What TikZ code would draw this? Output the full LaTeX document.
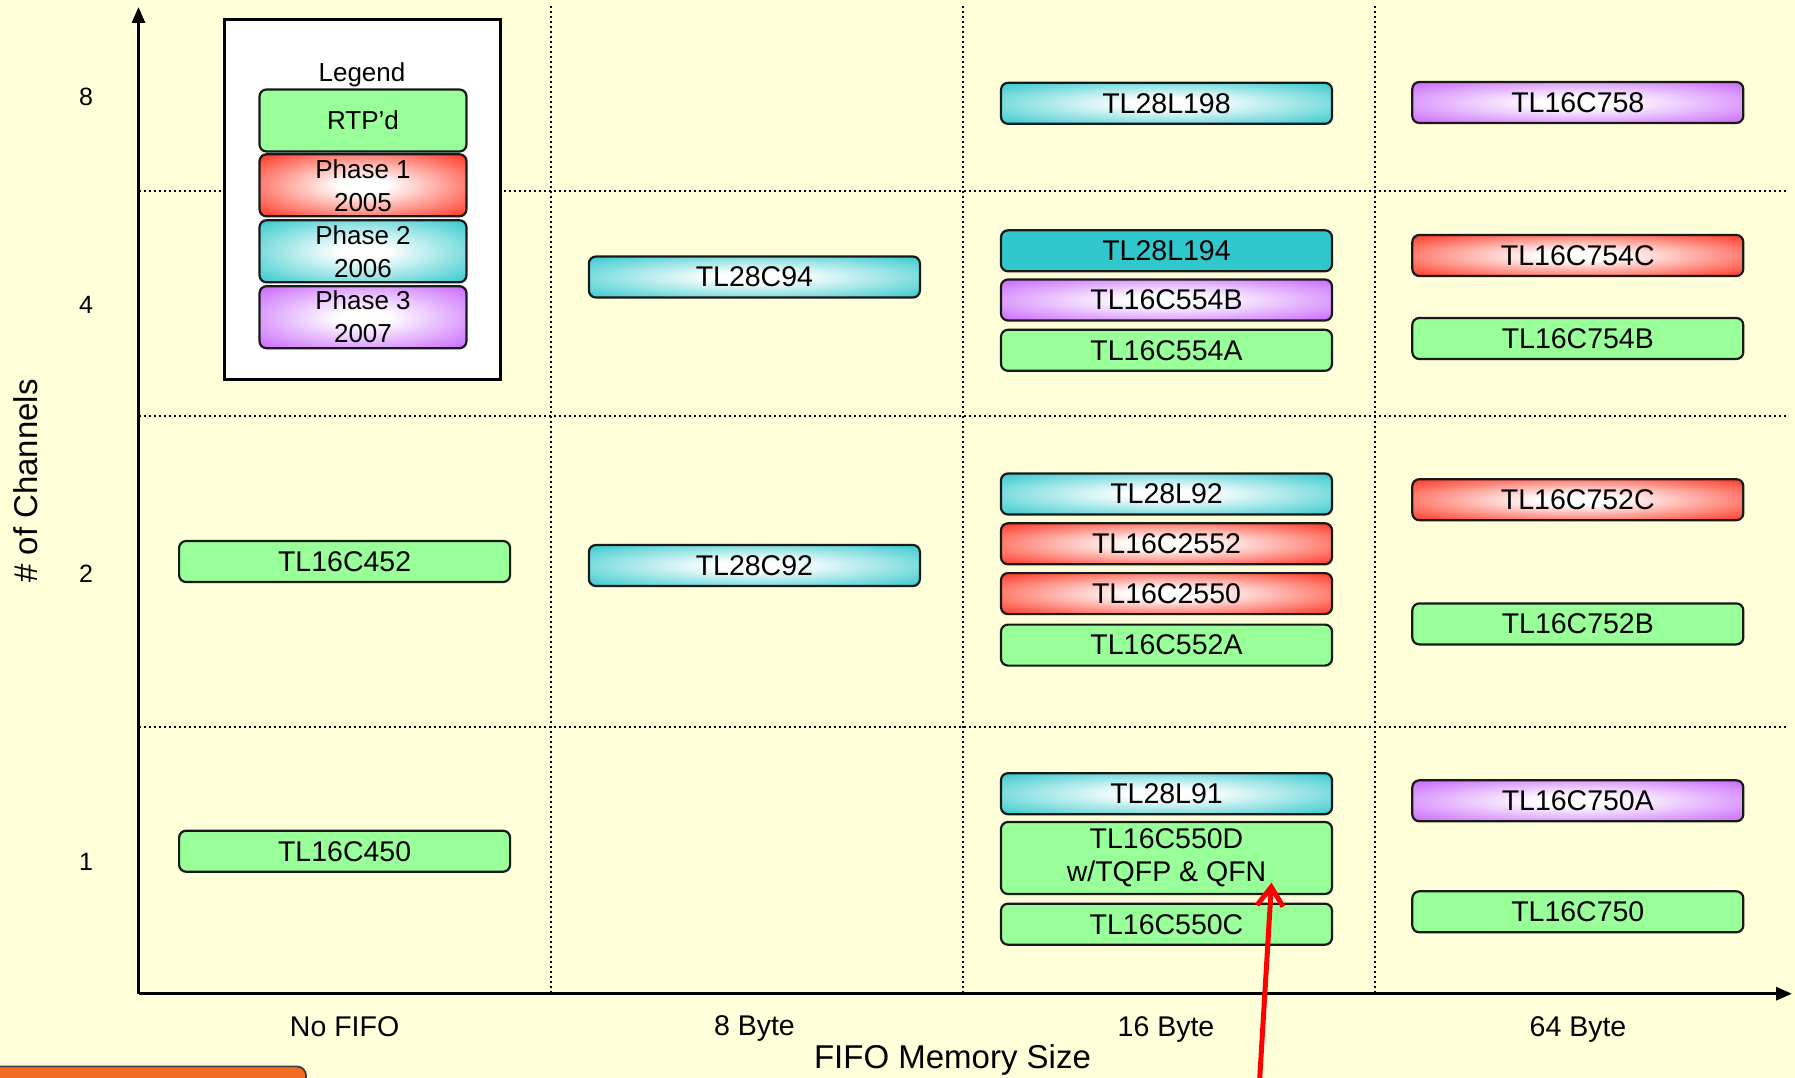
\documentclass[tikz,border=0pt]{standalone}
\usepackage{fontspec}
\setmainfont{Liberation Sans}
\usetikzlibrary{arrows.meta}
\definecolor{bgc}{RGB}{255,255,217}
\definecolor{greenc}{RGB}{153,255,153}
\definecolor{cyanedge}{RGB}{48,200,204}
\definecolor{rededge}{RGB}{255,50,30}
\definecolor{purpleedge}{RGB}{200,100,252}
\definecolor{orangec}{RGB}{242,108,36}
\definecolor{boxline}{RGB}{25,25,25}
\pgfdeclareradialshading{glowcyan}{\pgfpoint{0bp}{0bp}}{color(0bp)=(white); color(6bp)=(white); color(36bp)=(cyanedge); color(50bp)=(cyanedge)}
\pgfdeclareradialshading{glowred}{\pgfpoint{0bp}{0bp}}{color(0bp)=(white); color(6bp)=(white); color(36bp)=(rededge); color(50bp)=(rededge)}
\pgfdeclareradialshading{glowpurple}{\pgfpoint{0bp}{0bp}}{color(0bp)=(white); color(6bp)=(white); color(36bp)=(purpleedge); color(50bp)=(purpleedge)}
\begin{document}
\begin{tikzpicture}[x=1pt,y=-1pt,
  chip/.style={draw=boxline, line width=2.2pt, rounded corners=7pt, minimum width=331pt, minimum height=41pt, inner sep=0pt, font=\fontsize{28.5}{33}\selectfont, align=center},
  greenchip/.style={chip, fill=greenc},
  cyanchip/.style={chip, shade, shading=glowcyan},
  cyansolid/.style={chip, fill=cyanedge},
  redchip/.style={chip, shade, shading=glowred},
  purplechip/.style={chip, shade, shading=glowpurple},
  legchip/.style={minimum width=207pt, minimum height=62pt, font=\fontsize{26}{33}\selectfont},
  gridline/.style={line width=2pt, dash pattern=on 2pt off 3pt, black},
  axisline/.style={line width=3pt, black, -{Triangle[length=16pt,width=13pt]}},
  axlabel/.style={font=\fontsize{28.5}{30}\selectfont, text height=0.72em, text depth=0.2em, inner sep=0pt},
  ticklabel/.style={font=\fontsize{25}{26}\selectfont},
]
\useasboundingbox (0,0) rectangle (1795,1078);
\fill[bgc] (0,0) rectangle (1795,1078);

% grid
\draw[gridline] (550.7,6) -- (550.7,993);
\draw[gridline] (962.8,6) -- (962.8,993);
\draw[gridline] (1375,6) -- (1375,993);
\draw[gridline] (138.5,191) -- (1786,191);
\draw[gridline] (138.5,415.6) -- (1786,415.6);
\draw[gridline] (138.5,727) -- (1786,727);

% axes
\coordinate (O) at (138.5,993.7);
\coordinate (ytop) at (138.5,7);
\coordinate (xend) at (1792,993.7);
\draw[axisline] (O) -- (ytop);
\draw[axisline] (O) -- (xend);

% legend
\node[draw=black, line width=3pt, fill=white, minimum width=276pt, minimum height=360pt, inner sep=0pt] (legendbox) at (362.7,199.7) {};
\node[font=\fontsize{26}{30}\selectfont] (legendtitle) at (362,75) {Legend};
\node[greenchip, legchip] (lrtp) at (363,120.5) {RTP’d};
\node[redchip, legchip] (lp1) at (363,185.3) {Phase 1\\2005};
\node[cyanchip, legchip] (lp2) at (363,251.3) {Phase 2\\2006};
\node[purplechip, legchip] (lp3) at (363,317.2) {Phase 3\\2007};

% column 1
\node[greenchip] (c452) at (344.6,561.5) {TL16C452};
\node[greenchip] (c450) at (344.6,851.2) {TL16C450};

% column 2
\node[cyanchip] (c2894) at (754.4,277) {TL28C94};
\node[cyanchip] (c2892) at (754.4,565.5) {TL28C92};

% column 3
\node[cyanchip] (l198) at (1166.5,103.3) {TL28L198};
\node[cyansolid] (l194) at (1166.5,250.8) {TL28L194};
\node[purplechip] (c554b) at (1166.5,300) {TL16C554B};
\node[greenchip] (c554a) at (1166.5,350.3) {TL16C554A};
\node[cyanchip] (l92) at (1166.5,494) {TL28L92};
\node[redchip] (c2552) at (1166.5,543.8) {TL16C2552};
\node[redchip] (c2550) at (1166.5,593.6) {TL16C2550};
\node[greenchip] (c552a) at (1166.5,645.1) {TL16C552A};
\node[cyanchip] (l91) at (1166.5,793.7) {TL28L91};
\node[greenchip, minimum height=72pt] (c550d) at (1166.5,858) {TL16C550D\\w/TQFP \& QFN};
\node[greenchip] (c550c) at (1166.5,924.2) {TL16C550C};

% column 4
\node[purplechip] (c758) at (1577.8,102.5) {TL16C758};
\node[redchip] (c754c) at (1577.8,255.5) {TL16C754C};
\node[greenchip] (c754b) at (1577.8,338.5) {TL16C754B};
\node[redchip] (c752c) at (1577.8,499.7) {TL16C752C};
\node[greenchip] (c752b) at (1577.8,623.9) {TL16C752B};
\node[purplechip] (c750a) at (1577.8,800.8) {TL16C750A};
\node[greenchip] (c750) at (1577.8,911.8) {TL16C750};

% axis labels
\node[axlabel] (xl1) at (344.6,1034) {No FIFO};
\node[axlabel] (xl2) at (754.4,1033) {8 Byte};
\node[axlabel] (xl3) at (1166,1034) {16 Byte};
\node[axlabel] (xl4) at (1578,1034) {64 Byte};
\node[font=\fontsize{33}{36}\selectfont] (xtitle) at (952.5,1060) {FIFO Memory Size};
\node[font=\fontsize{33}{36}\selectfont, rotate=90] (ytitle) at (26,481) {\# of Channels};
\node[ticklabel] (t8) at (86,97.3) {8};
\node[ticklabel] (t4) at (86,304.5) {4};
\node[ticklabel] (t2) at (86,573.5) {2};
\node[ticklabel] (t1) at (86,862) {1};

% orange banner (partially visible)
\draw[fill=orangec, draw=black!75, line width=1.8pt, rounded corners=9pt] (-20,1066.5) rectangle (306,1110);

% red arrow
\coordinate (arrowfoot) at (1259.5,1082);
\coordinate (arrowtip) at (1271.5,882.5);
\draw[red, line width=5pt, -{Straight Barb[length=19pt,width=26pt,line width=5pt]}] (arrowfoot) -- (arrowtip);
\end{tikzpicture}
\end{document}
